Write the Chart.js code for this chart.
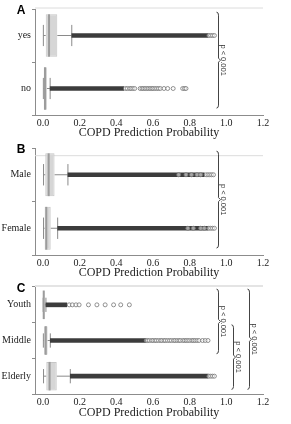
<!DOCTYPE html>
<html>
<head>
<meta charset="utf-8">
<script src="https://cdn.jsdelivr.net/npm/chart.js@4.4.1/dist/chart.umd.min.js"></script>
<style>
html, body { margin: 0; padding: 0; background: #fff; }
body { width: 291px; height: 424px; position: relative; overflow: hidden; }
canvas { position: absolute; left: 0; }
</style>
</head>
<body>
<canvas id="panelA" width="291" height="140" style="top:0px"></canvas>
<canvas id="panelB" width="291" height="140" style="top:140px"></canvas>
<canvas id="panelC" width="291" height="140" style="top:280px"></canvas>
<script>
// x axis
var tickValues = [0, 0.2, 0.4, 0.6, 0.8, 1.0, 1.2];
var xTitle = 'COPD Prediction Probability';
var pLabel = 'p < 0.001';

// panel A
var groupsA = ['yes', 'no'];
var lowA = [0.002, 0.002];
var q1A = [0.015, 0.004];
var medA = [0.033, 0.011];
var q3A = [0.078, 0.021];
var highA = [0.157, 0.039];
var denseEndA = [0.90, 0.44];
var outliersA = [
    [0.905, 0.915, 0.925, 0.935],
    [0.45, 0.46, 0.472, 0.48, 0.49, 0.50, 0.53, 0.54, 0.548, 0.557, 0.566, 0.575, 0.584, 0.593, 0.60, 0.61, 0.62, 0.63, 0.64, 0.66, 0.68, 0.71, 0.762, 0.772, 0.78]
];
var pairsA = [[0, 1]];

// panel B
var groupsB = ['Male', 'Female'];
var lowB = [0.003, 0.003];
var q1B = [0.0125, 0.009];
var medB = [0.031, 0.018];
var q3B = [0.063, 0.042];
var highB = [0.136, 0.08];
var denseEndB = [0.88, 0.90];
var outliersB = [
    [0.74, 0.78, 0.81, 0.84, 0.86, 0.89, 0.90, 0.91, 0.92, 0.93],
    [0.79, 0.82, 0.86, 0.88, 0.905, 0.915, 0.925, 0.935]
];
var pairsB = [[0, 1]];

// panel C
var groupsC = ['Youth', 'Middle', 'Elderly'];
var lowC = [0.001, 0.002, 0.003];
var q1C = [0.001, 0.006, 0.018];
var medC = [0.004, 0.015, 0.036];
var q3C = [0.009, 0.025, 0.075];
var highC = [0.016, 0.04, 0.149];
var denseEndC = [0.13, 0.56, 0.90];
var outliersC = [
    [0.143, 0.16, 0.18, 0.197, 0.248, 0.294, 0.339, 0.385, 0.424, 0.471],
    [0.563, 0.571, 0.58, 0.592, 0.60, 0.611, 0.619, 0.63, 0.641, 0.648, 0.66, 0.668, 0.679, 0.69, 0.70, 0.712, 0.72, 0.731, 0.742, 0.75, 0.763, 0.772, 0.781, 0.79, 0.80, 0.812, 0.82, 0.829, 0.84, 0.851, 0.87, 0.885, 0.90],
    [0.905, 0.915, 0.925, 0.935]
];
var pairsC = [[0, 1], [1, 2], [0, 2]];

var serif = 'Liberation Serif';

function drawBrace(ctx, x, top, bottom) {
    var mid = (top + bottom) / 2;
    ctx.beginPath();
    ctx.moveTo(x - 2, top);
    ctx.quadraticCurveTo(x, top, x, top + 3);
    ctx.lineTo(x, mid - 2);
    ctx.lineTo(x + 2, mid);
    ctx.lineTo(x, mid + 2);
    ctx.lineTo(x, bottom - 3);
    ctx.quadraticCurveTo(x, bottom, x - 2, bottom);
    ctx.stroke();
}

var boxExtras = {
    id: 'boxExtras',
    beforeDatasetsDraw: function(chart) {
        var p = chart.options.plugins.boxExtras;
        var ctx = chart.ctx, xs = chart.scales.x, ys = chart.scales.y;
        var area = chart.chartArea;
        var cat = ys.getPixelForValue(1) - ys.getPixelForValue(0);
        ctx.save();
        // faint frame line across the top
        ctx.strokeStyle = p.frameColor;
        ctx.lineWidth = p.frameWidth;
        ctx.beginPath();
        ctx.moveTo(area.left, area.top + p.frameOffset);
        ctx.lineTo(area.right, area.top + p.frameOffset);
        ctx.stroke();
        // whiskers and caps
        ctx.strokeStyle = '#8a8a8a';
        ctx.lineWidth = 1;
        p.groups.forEach(function(g, i) {
            var y = ys.getPixelForValue(i);
            var half = cat * 0.2;
            ctx.beginPath();
            ctx.moveTo(xs.getPixelForValue(p.low[i]), y);
            ctx.lineTo(xs.getPixelForValue(p.q1[i]), y);
            ctx.moveTo(xs.getPixelForValue(p.q3[i]), y);
            ctx.lineTo(xs.getPixelForValue(p.high[i]), y);
            ctx.moveTo(xs.getPixelForValue(p.low[i]), y - half);
            ctx.lineTo(xs.getPixelForValue(p.low[i]), y + half);
            ctx.moveTo(xs.getPixelForValue(p.high[i]), y - half);
            ctx.lineTo(xs.getPixelForValue(p.high[i]), y + half);
            ctx.stroke();
        });
        ctx.restore();
    },
    afterDatasetsDraw: function(chart) {
        var p = chart.options.plugins.boxExtras;
        var ctx = chart.ctx, xs = chart.scales.x, ys = chart.scales.y;
        var cat = ys.getPixelForValue(1) - ys.getPixelForValue(0);
        ctx.save();
        // medians
        ctx.strokeStyle = '#9c9c9c';
        ctx.lineWidth = 2;
        p.groups.forEach(function(g, i) {
            var y = ys.getPixelForValue(i);
            var x = xs.getPixelForValue(p.med[i]);
            ctx.beginPath();
            ctx.moveTo(x, y - cat * 0.4);
            ctx.lineTo(x, y + cat * 0.4);
            ctx.stroke();
        });
        // significance braces
        ctx.strokeStyle = '#444';
        ctx.lineWidth = 1;
        ctx.fillStyle = '#333';
        ctx.font = '7.5px "Liberation Sans"';
        ctx.textAlign = 'center';
        ctx.textBaseline = 'middle';
        p.pairs.forEach(function(pair, k) {
            var x = Math.round(xs.getPixelForValue(0.955 + k * 0.083)) + 0.5;
            var top = ys.getPixelForValue(pair[0]) - cat * 0.44;
            var bottom = ys.getPixelForValue(pair[1]) + cat * 0.37;
            drawBrace(ctx, x, top, bottom);
            ctx.save();
            ctx.translate(x + 4.5, (top + bottom) / 2);
            ctx.rotate(Math.PI / 2);
            ctx.fillText(pLabel, 0, 0);
            ctx.restore();
        });
        ctx.restore();
    },
    afterDraw: function(chart) {
        var p = chart.options.plugins.boxExtras;
        var ctx = chart.ctx;
        ctx.save();
        ctx.fillStyle = '#000';
        ctx.font = 'bold 12px "Liberation Sans"';
        ctx.textAlign = 'center';
        ctx.textBaseline = 'middle';
        ctx.fillText(p.letter, 21, p.letterY);
        ctx.restore();
    }
};

function makePanel(id, letter, groups, low, q1, med, q3, high, denseEnd, outliers, pairs, look) {
    var points = [];
    outliers.forEach(function(list, i) {
        list.forEach(function(v) {
            points.push({x: v, y: groups[i]});
        });
    });
    var ctx = document.getElementById(id).getContext('2d');
    return new Chart(ctx, {
        type: 'bar',
        data: {
            labels: groups,
            datasets: [{
                type: 'scatter',
                data: points,
                pointStyle: 'circle',
                pointRadius: 2,
                borderWidth: 0.8,
                borderColor: '#767676',
                backgroundColor: 'rgba(255,255,255,0.55)',
                showLine: false,
                order: 1
            }, {
                data: groups.map(function(g, i) { return [high[i], denseEnd[i]]; }),
                backgroundColor: '#3c3c3c',
                barThickness: 4,
                grouped: false,
                order: 2
            }, {
                data: groups.map(function(g, i) { return [q1[i], q3[i]]; }),
                backgroundColor: '#d6d6d6',
                borderColor: '#c6c6c6',
                borderWidth: 1,
                borderSkipped: false,
                barPercentage: 0.8,
                categoryPercentage: 1,
                grouped: false,
                order: 3
            }]
        },
        options: {
            indexAxis: 'y',
            responsive: false,
            animation: false,
            devicePixelRatio: 1,
            layout: { padding: { top: look.top, right: 28, left: 0, bottom: 0 } },
            plugins: {
                legend: { display: false },
                tooltip: { enabled: false },
                boxExtras: {
                    letter: letter, letterY: look.letterY,
                    frameOffset: look.frameOffset, frameWidth: look.frameWidth, frameColor: look.frameColor,
                    groups: groups, low: low, q1: q1, med: med, q3: q3, high: high, pairs: pairs
                }
            },
            scales: {
                x: {
                    type: 'linear',
                    min: -0.0436,
                    max: 1.2,
                    afterBuildTicks: function(s) {
                        s.ticks = tickValues.map(function(v) { return {value: v}; });
                    },
                    afterFit: function(s) { s.height = look.axisHeight; },
                    grid: { drawOnChartArea: false, drawTicks: false },
                    border: { color: '#8c8c8c', width: 1 },
                    ticks: {
                        padding: 2,
                        color: '#222',
                        font: { family: serif, size: 10 },
                        callback: function(v) { return Number(v).toFixed(1); }
                    },
                    title: {
                        display: true,
                        text: xTitle,
                        color: '#222',
                        font: { family: serif, size: 12 },
                        padding: { top: 0, bottom: 0 }
                    }
                },
                y: {
                    type: 'category',
                    afterFit: function(s) { s.width = 35; },
                    grid: { drawOnChartArea: false, drawTicks: true, tickLength: 3, color: '#8c8c8c' },
                    border: { color: '#8c8c8c', width: 1 },
                    ticks: {
                        padding: 1,
                        color: '#222',
                        font: { family: serif, size: 10 }
                    }
                }
            }
        },
        plugins: [boxExtras]
    });
}

makePanel('panelA', 'A', groupsA, lowA, q1A, medA, q3A, highA, denseEndA, outliersA, pairsA,
    { top: 9, axisHeight: 25, letterY: 10.7, frameOffset: -1, frameWidth: 1, frameColor: '#dcdcdc' });
makePanel('panelB', 'B', groupsB, lowB, q1B, medB, q3B, highB, denseEndB, outliersB, pairsB,
    { top: 8, axisHeight: 25, letterY: 10, frameOffset: 7.7, frameWidth: 1, frameColor: '#dcdcdc' });
makePanel('panelC', 'C', groupsC, lowC, q1C, medC, q3C, highC, denseEndC, outliersC, pairsC,
    { top: 7, axisHeight: 26, letterY: 8.3, frameOffset: -1, frameWidth: 2, frameColor: '#e4e4e4' });
</script>
</body>
</html>
